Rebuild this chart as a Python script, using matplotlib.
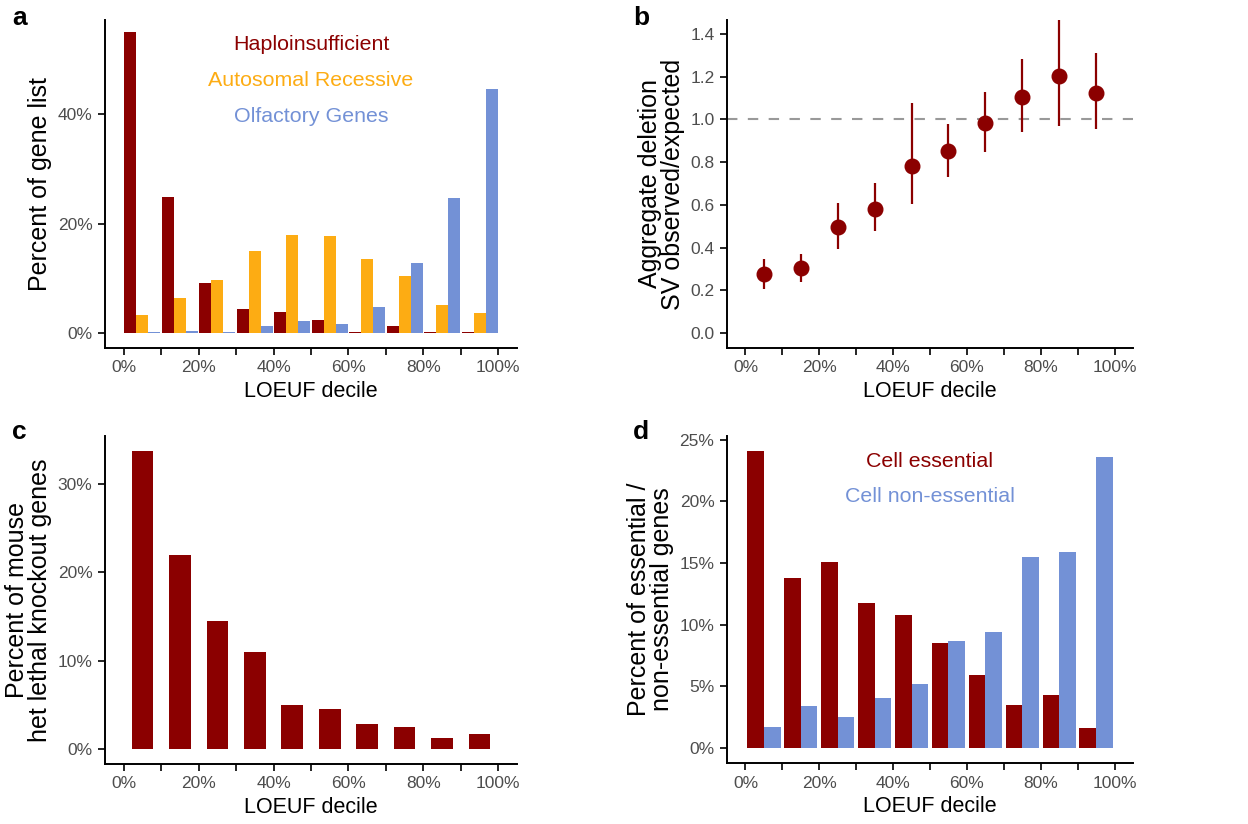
import numpy as np
import matplotlib
matplotlib.use("Agg")
import matplotlib.pyplot as plt
from matplotlib.ticker import FuncFormatter, FixedLocator

plt.rcParams["font.family"] = ["Liberation Sans", "DejaVu Sans"]

# ── data ──────────────────────────────────────────────────────────────────────
DECILE_CENTERS = [0.05, 0.15, 0.25, 0.35, 0.45, 0.55, 0.65, 0.75, 0.85, 0.95]

# panel a: percent of gene list per LOEUF decile
haplo_pct = [55.0, 24.9, 9.2, 4.3, 3.9, 2.3, 0.2, 1.2, 0.2, 0.2]
ar_pct = [3.2, 6.3, 9.7, 14.9, 17.9, 17.7, 13.5, 10.5, 5.1, 3.6]
olf_pct = [0.2, 0.4, 0.2, 1.2, 2.1, 1.7, 4.8, 12.7, 24.6, 44.5]

# panel b: aggregate deletion SV observed/expected
sv_oe = [0.274, 0.303, 0.496, 0.580, 0.781, 0.854, 0.981, 1.106, 1.203, 1.122]
sv_lower = [0.206, 0.241, 0.394, 0.477, 0.605, 0.730, 0.846, 0.942, 0.970, 0.957]
sv_upper = [0.347, 0.371, 0.610, 0.704, 1.078, 0.976, 1.126, 1.283, 1.50, 1.309]

# panel c: mouse het lethal knockout genes
mouse_pct = [33.7, 21.9, 14.5, 11.0, 5.0, 4.5, 2.8, 2.5, 1.2, 1.7]

# panel d: cell essential / non-essential
ess_pct = [24.1, 13.8, 15.1, 11.8, 10.8, 8.5, 5.9, 3.5, 4.3, 1.6]
noness_pct = [1.7, 3.4, 2.5, 4.1, 5.2, 8.7, 9.4, 15.5, 15.9, 23.6]

X_TICKS = [i / 10 for i in range(11)]
X_LABELS = ["0%", "", "20%", "", "40%", "", "60%", "", "80%", "", "100%"]

# ── style ─────────────────────────────────────────────────────────────────────
RED = "#8b0000"
ORANGE = "#fdac13"
BLUE = "#7391d6"
TICK_GREY = "#4d4d4d"

TICK_FS = 12.5
XTITLE_FS = 15.5
YTITLE_FS = 18
ANNOT_FS = 15.4


def style_axis(ax):
    ax.spines["top"].set_visible(False)
    ax.spines["right"].set_visible(False)
    for s in ("left", "bottom"):
        ax.spines[s].set_linewidth(1.4)
    ax.tick_params(axis="both", length=5, width=1.2, color="black",
                   labelcolor=TICK_GREY, labelsize=TICK_FS, pad=4)
    ax.xaxis.set_major_locator(FixedLocator(X_TICKS))
    ax.set_xticklabels(X_LABELS)
    ax.set_xlim(-0.05, 1.05)
    ax.set_xlabel("LOEUF decile", fontsize=XTITLE_FS, labelpad=4)


pct_fmt = FuncFormatter(lambda v, _: f"{v:.0f}%")

fig = plt.figure(figsize=(12.48, 8.24), dpi=100)
W, H = 1248, 824


def add_axes(left, top, right, bottom):
    return fig.add_axes([left / W, 1 - bottom / H, (right - left) / W, (bottom - top) / H])


ax_a = add_axes(105, 20, 517, 348)
ax_b = add_axes(727, 20, 1133, 348)
ax_c = add_axes(105, 436, 517, 764)
ax_d = add_axes(727, 436, 1133, 763)

x = np.array(DECILE_CENTERS)

# ── panel a ───────────────────────────────────────────────────────────────────
bw = 0.032
ax_a.bar(x - bw, haplo_pct, width=bw, color=RED, linewidth=0)
ax_a.bar(x, ar_pct, width=bw, color=ORANGE, linewidth=0)
ax_a.bar(x + bw, olf_pct, width=bw, color=BLUE, linewidth=0)
style_axis(ax_a)
ax_a.set_ylim(-2.75, 57.2)
ax_a.set_yticks([0, 20, 40])
ax_a.yaxis.set_major_formatter(pct_fmt)
ax_a.set_ylabel("Percent of gene list", fontsize=YTITLE_FS, labelpad=4)
ax_a.text(0.5, 52.8, "Haploinsufficient", color=RED, fontsize=ANNOT_FS, ha="center", va="center")
ax_a.text(0.5, 46.2, "Autosomal Recessive", color=ORANGE, fontsize=ANNOT_FS, ha="center", va="center")
ax_a.text(0.5, 39.6, "Olfactory Genes", color=BLUE, fontsize=ANNOT_FS, ha="center", va="center")

# ── panel b ───────────────────────────────────────────────────────────────────
ax_b.axhline(1.0, color="#999999", linestyle=(0, (5, 5)), linewidth=1.5, zorder=1)
ax_b.vlines(x, sv_lower, sv_upper, color=RED, linewidth=1.6, zorder=2)
ax_b.plot(x, sv_oe, "o", color=RED, markersize=10.5, zorder=3)
style_axis(ax_b)
ax_b.set_ylim(-0.07, 1.465)
ax_b.set_yticks([0.0, 0.2, 0.4, 0.6, 0.8, 1.0, 1.2, 1.4])
ax_b.yaxis.set_major_formatter(FuncFormatter(lambda v, _: f"{v:.1f}"))
ax_b.set_ylabel("Aggregate deletion\nSV observed/expected", fontsize=YTITLE_FS,
                labelpad=4, linespacing=0.95)

# ── panel c ───────────────────────────────────────────────────────────────────
ax_c.bar(x, mouse_pct, width=0.058, color=RED, linewidth=0)
style_axis(ax_c)
ax_c.set_ylim(-1.69, 35.4)
ax_c.set_yticks([0, 10, 20, 30])
ax_c.yaxis.set_major_formatter(pct_fmt)
ax_c.set_ylabel("Percent of mouse\nhet lethal knockout genes", fontsize=YTITLE_FS,
                labelpad=4, linespacing=0.95)

# ── panel d ───────────────────────────────────────────────────────────────────
bw = 0.045
ax_d.bar(x - bw / 2, ess_pct, width=bw, color=RED, linewidth=0)
ax_d.bar(x + bw / 2, noness_pct, width=bw, color=BLUE, linewidth=0)
style_axis(ax_d)
ax_d.set_ylim(-1.2, 25.3)
ax_d.set_yticks([0, 5, 10, 15, 20, 25])
ax_d.yaxis.set_major_formatter(pct_fmt)
ax_d.set_ylabel("Percent of essential /\nnon-essential genes", fontsize=YTITLE_FS,
                labelpad=4, linespacing=0.95)
ax_d.text(0.5, 23.2, "Cell essential", color=RED, fontsize=ANNOT_FS, ha="center", va="center")
ax_d.text(0.5, 20.4, "Cell non-essential", color=BLUE, fontsize=ANNOT_FS, ha="center", va="center")

# ── panel letters ─────────────────────────────────────────────────────────────
for lbl, px, py in [("a", 12, 6), ("b", 633, 6), ("c", 12, 420), ("d", 633, 420)]:
    fig.text(px / W, 1 - py / H, lbl, fontsize=19, fontweight="bold", ha="left", va="top")

fig.savefig("out.png", dpi=100)
